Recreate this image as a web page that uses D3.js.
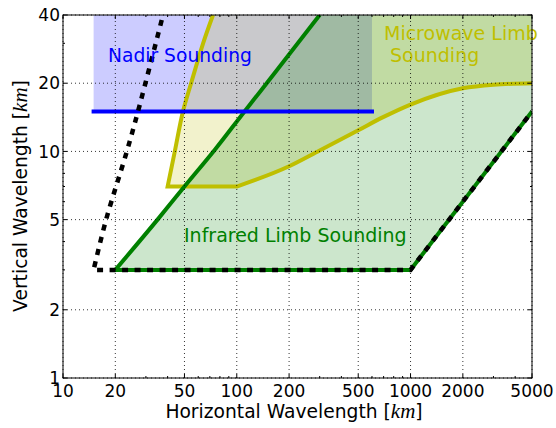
<!DOCTYPE html>
<html>
<head>
<meta charset="utf-8">
<script src="https://cdn.jsdelivr.net/npm/d3@7"></script>
<style>
  body { margin: 0; background: #fff; }
  text { font-family: "DejaVu Sans", sans-serif; }
</style>
</head>
<body>
<svg id="chart" width="556" height="428"></svg>
<script>
// Axis ticks
const xTicks = [10, 20, 50, 100, 200, 500, 1000, 2000, 5000];
const yTicks = [1, 2, 5, 10, 20, 40];
const xMinorTicks = [30, 40, 60, 70, 80, 90, 300, 400, 600, 700, 800, 900, 3000, 4000];
const yMinorTicks = [3, 4, 6, 7, 8, 9, 30];

// Nadir sounding window: horizontal range and vertical range (km)
const nadirX = [15, 600];
const nadirY = [15, 40];

// Microwave limb sounding boundary (horizontal km, vertical km)
const mwLeftEdge = [[73, 40], [64, 30], [54.6, 20], [49, 15], [44, 10], [40, 7]];
const mwLowerEdge = [[100, 7], [200, 8.6], [300, 10.1], [500, 12.4], [700, 14.2],
                     [1000, 16.1], [2000, 19], [3000, 19.7], [5000, 20]];

// Infrared limb sounding boundary (left edge listed from the top down)
const irLeftEdge = [[300, 40], [170, 22.8], [110, 14.9], [75, 10.2], [50, 7], [35, 5], [20, 3]];
const irBottomRight = [[20, 3], [1000, 3], [5000, 15]];

// Observational limit (dashed)
const limitSteep = [[37, 38], [27, 15], [23.3, 10], [17.7, 5], [15, 3]];
const limitFloor = [[15, 3], [1000, 3], [5000, 15]];

const domainX = [10, 5000];
const domainY = [1, 40];

const svg = d3.select("#chart");
const margin = { left: 63, right: 24, top: 15, bottom: 50 };
const W = 556, H = 428;
const x = d3.scaleLog().domain(domainX).range([margin.left, W - margin.right]);
const y = d3.scaleLog().domain(domainY).range([H - margin.bottom, margin.top]);
const x0 = x.range()[0], x1 = x.range()[1], y0 = y.range()[0], y1 = y.range()[1];

const BLUE = "#0000ff", YEL = "#bfbf00", GRN = "#008000";

svg.append("defs").append("clipPath").attr("id", "plot")
  .append("rect").attr("x", x0).attr("y", y1).attr("width", x1 - x0).attr("height", y0 - y1);

const plot = svg.append("g").attr("clip-path", "url(#plot)");

const smooth = d3.line().x(d => x(d[0])).y(d => y(d[1])).curve(d3.curveCatmullRom.alpha(0.5));
const smoothX = d3.line().x(d => x(d[0])).y(d => y(d[1])).curve(d3.curveMonotoneX);
const smoothY = d3.line().x(d => x(d[0])).y(d => y(d[1])).curve(d3.curveMonotoneY);
const straight = d3.line().x(d => x(d[0])).y(d => y(d[1]));
const cont = s => s.replace(/^M/, "L");

// Fills
plot.append("rect")
  .attr("x", x(nadirX[0])).attr("y", y(nadirY[1]))
  .attr("width", x(nadirX[1]) - x(nadirX[0])).attr("height", y(nadirY[0]) - y(nadirY[1]))
  .attr("fill", BLUE).attr("fill-opacity", 0.2);

const mwFill = smooth(mwLeftEdge) + cont(smoothX(mwLowerEdge))
  + cont(straight([[5000, 40], [mwLeftEdge[0][0], 40]])) + "Z";
plot.append("path").attr("d", mwFill).attr("fill", YEL).attr("fill-opacity", 0.2);

const irOutline = smoothY(irLeftEdge) + cont(straight(irBottomRight));
const irFill = irOutline + cont(straight([[5000, 40]])) + "Z";
plot.append("path").attr("d", irFill).attr("fill", GRN).attr("fill-opacity", 0.2);

// Grid
const grid = svg.append("g");
xTicks.forEach(t => grid.append("line").attr("x1", x(t)).attr("x2", x(t)).attr("y1", y0).attr("y2", y1)
  .attr("stroke", "#000").attr("stroke-width", 0.8).attr("stroke-dasharray", "1,3"));
yTicks.forEach(t => grid.append("line").attr("y1", y(t)).attr("y2", y(t)).attr("x1", x0).attr("x2", x1)
  .attr("stroke", "#000").attr("stroke-width", 0.8).attr("stroke-dasharray", "1,3"));

// Lines
const mwLine = smooth(mwLeftEdge) + cont(smoothX(mwLowerEdge));
plot.append("path").attr("d", mwLine).attr("fill", "none").attr("stroke", YEL).attr("stroke-width", 4);

plot.append("path").attr("d", irOutline).attr("fill", "none").attr("stroke", GRN).attr("stroke-width", 4);

plot.append("line")
  .attr("x1", x(nadirX[0])).attr("x2", x(nadirX[1])).attr("y1", y(nadirY[0])).attr("y2", y(nadirY[0]))
  .attr("stroke", BLUE).attr("stroke-width", 4).attr("stroke-linecap", "square");

const limitLine = smooth(limitSteep) + cont(straight(limitFloor));
plot.append("path").attr("d", limitLine).attr("fill", "none").attr("stroke", "#000")
  .attr("stroke-width", 4.5).attr("stroke-dasharray", "6,6.5");

// Region labels
svg.append("text").attr("x", 108).attr("y", 62).attr("font-size", 18.7).attr("fill", BLUE).text("Nadir Sounding");
const mwText = svg.append("text").attr("font-size", 19).attr("fill", YEL);
mwText.append("tspan").attr("x", 384).attr("y", 40).text("Microwave Limb");
mwText.append("tspan").attr("x", 384).attr("y", 62).text("\u00a0Sounding");
svg.append("text").attr("x", 184).attr("y", 242).attr("font-size", 19).attr("fill", GRN).text("Infrared Limb Sounding");

// Axes frame and ticks
const ax = svg.append("g");
ax.append("rect").attr("x", x0).attr("y", y1).attr("width", x1 - x0).attr("height", y0 - y1)
  .attr("fill", "none").attr("stroke", "#000").attr("stroke-width", 1);
const tick = (xa, ya, xb, yb) => ax.append("line").attr("x1", xa).attr("y1", ya).attr("x2", xb).attr("y2", yb)
  .attr("stroke", "#000").attr("stroke-width", 1);
xTicks.forEach(t => { tick(x(t), y0, x(t), y0 - 4); tick(x(t), y1, x(t), y1 + 4); });
xMinorTicks.forEach(t => { tick(x(t), y0, x(t), y0 - 2); tick(x(t), y1, x(t), y1 + 2); });
yTicks.forEach(t => { tick(x0, y(t), x0 + 4, y(t)); tick(x1, y(t), x1 - 4, y(t)); });
yMinorTicks.forEach(t => { tick(x0, y(t), x0 + 2, y(t)); tick(x1, y(t), x1 - 2, y(t)); });

xTicks.forEach(t => ax.append("text").attr("x", x(t)).attr("y", y0 + 18.5)
  .attr("text-anchor", "middle").attr("font-size", 17).text(t));
yTicks.forEach(t => ax.append("text").attr("x", x0 - 3).attr("y", y(t)).attr("dy", "0.36em")
  .attr("text-anchor", "end").attr("font-size", 17).text(t));

// Axis titles
const xl = svg.append("text").attr("x", 294).attr("y", 418).attr("text-anchor", "middle").attr("font-size", 18.7);
xl.append("tspan").text("Horizontal Wavelength [");
xl.append("tspan").attr("font-family", "Liberation Serif").attr("font-style", "italic").attr("font-size", 21).text("km");
xl.append("tspan").text("]");

const yl = svg.append("text").attr("transform", "translate(27,196) rotate(-90)").attr("text-anchor", "middle").attr("font-size", 18.7);
yl.append("tspan").text("Vertical Wavelength [");
yl.append("tspan").attr("font-family", "Liberation Serif").attr("font-style", "italic").attr("font-size", 21).text("km");
yl.append("tspan").text("]");
</script>
</body>
</html>
